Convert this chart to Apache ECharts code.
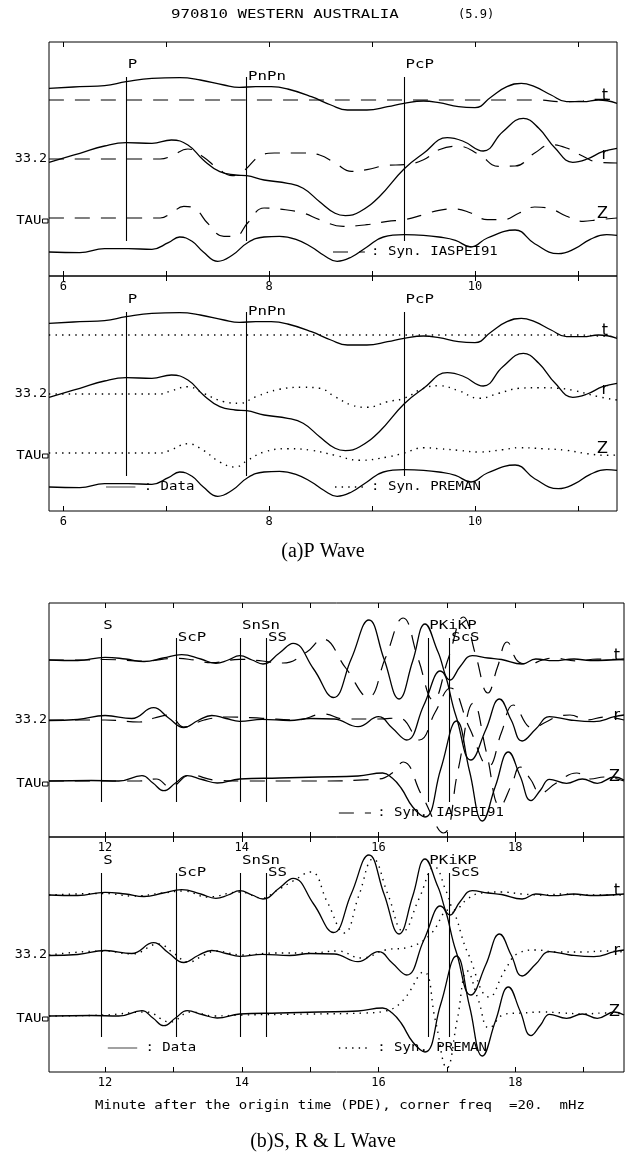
<!DOCTYPE html>
<html><head><meta charset="utf-8">
<script src="https://cdn.jsdelivr.net/npm/echarts@6/dist/echarts.min.js"></script>
<style>html,body{margin:0;padding:0;background:#fff;}#c{width:625px;height:1154px;}</style>
</head><body><div id="c"></div>
<script>
// ---------- tick labels / axes ----------
const pRange = [5.86, 11.38];
const sRange = [11.18, 19.59];
const pTicks = [6, 7, 8, 9, 10, 11];
const pTickLabels = [6, 8, 10];
const sTicks = [12, 13, 14, 15, 16, 17, 18, 19];
const sTickLabels = [12, 14, 16, 18];

// ---------- phase markers ----------
const pPhases = ['P', 'PnPn', 'PcP'];
const pPhaseTimes = [6.61, 7.78, 9.31];
const pPhaseRow = [0, 1, 0];
const sPhases = ['S', 'ScP', 'SnSn', 'SS', 'PKiKP', 'ScS'];
const sPhaseTimes = [11.95, 13.04, 13.98, 14.36, 16.72, 17.04];
const sPhaseRow = [0, 1, 0, 1, 0, 1];

// ---------- trace names / offsets ----------
const components = ['t', 'r', 'Z'];
const pOffsets = [59, 0, -59];
const sOffsets = [60, 0, -61];

// ---------- P wave: observed data [minute, deflection] ----------
const pDataT = [[5.86,11.7],[6.16,13.3],[6.40,14.3],[6.61,18.3],[6.86,21.7],[7.13,22.3],[7.33,20],[7.56,15],[7.71,12.7],[7.87,13.3],[8.02,13.3],[8.18,11],[8.41,3.3],[8.60,-5],[8.76,-10],[8.95,-10],[9.15,-6.7],[9.31,-3.3],[9.50,-1],[9.65,-2.7],[9.84,-6.7],[10.0,-7.7],[10.16,3.3],[10.31,13.3],[10.45,16.7],[10.58,13.3],[10.74,5],[10.89,-1.7],[11.05,-1.7],[11.20,0],[11.38,-3.3]];
const pDataR = [[5.86,-3.3],[6.16,5.7],[6.40,13],[6.61,16.3],[6.86,15.7],[7.05,19],[7.21,14],[7.36,-1],[7.52,-12.7],[7.67,-16],[7.78,-16.7],[7.95,-21],[8.18,-24.3],[8.33,-29.3],[8.49,-42.7],[8.64,-54.3],[8.74,-56.7],[8.88,-52.7],[9.07,-37.7],[9.31,-10],[9.50,5.7],[9.73,21.3],[9.88,18],[10.08,8],[10.27,27.3],[10.47,40.7],[10.62,30.7],[10.78,10.7],[10.95,-3.3],[11.09,0],[11.24,7.3],[11.38,10.7]];
const pDataZ = [[5.86,-34],[6.16,-34.7],[6.40,-30.7],[6.63,-30.7],[6.86,-31.3],[7.02,-24.7],[7.13,-19],[7.25,-23.3],[7.36,-34],[7.50,-43.3],[7.64,-37.3],[7.79,-24.7],[7.95,-19],[8.10,-18.3],[8.26,-21.3],[8.41,-29],[8.53,-37.3],[8.66,-43.3],[8.80,-39],[8.95,-29],[9.11,-19],[9.31,-16.7],[9.50,-17.3],[9.65,-19],[9.81,-22.3],[9.96,-29],[10.12,-20],[10.39,-12],[10.58,-25.7],[10.81,-35.7],[10.97,-30.7],[11.12,-21.3],[11.28,-16.7],[11.38,-17.3]];

// ---------- P wave: synthetic IASPEI91 ----------
const pIaspT = [[5.86,0],[7.0,0],[8.0,0],[9.0,0],[10.0,0],[10.6,0],[10.85,-1.7],[11.05,-1],[11.2,0.7],[11.38,0.3]];
const pIaspR = [[5.86,0],[6.94,0],[7.05,3],[7.21,10],[7.36,2],[7.52,-11],[7.64,-16.7],[7.75,-12],[7.91,3],[8.05,6],[8.33,6],[8.49,4],[8.64,-4],[8.80,-12.3],[8.95,-10.7],[9.15,-6.3],[9.31,-5.7],[9.50,-0.7],[9.65,9.3],[9.84,12.7],[10.04,4.3],[10.23,-7.3],[10.39,-7],[10.58,6],[10.74,14.3],[10.89,11],[11.05,2.7],[11.20,-3.3],[11.38,-4]];
const pIaspZ = [[5.86,0],[6.94,0],[7.05,5],[7.17,11.7],[7.29,8.3],[7.40,-5],[7.56,-18.3],[7.67,-18.3],[7.79,-5],[7.95,10],[8.10,9],[8.33,5],[8.49,-1.7],[8.72,-8.3],[8.95,-6.7],[9.15,-3.3],[9.31,-1.7],[9.50,3.3],[9.65,7.7],[9.81,9],[9.96,5],[10.12,-1.7],[10.27,-1.7],[10.43,5],[10.58,11],[10.74,9],[10.89,1.7],[11.05,-3.3],[11.20,-1.7],[11.38,0]];

// ---------- P wave: synthetic PREMAN ----------
const pPremT = [[5.86,0],[7.0,0],[8.0,0],[9.0,0],[10.0,0],[11.0,0],[11.2,-1],[11.38,-1.5]];
const pPremR = [[5.86,0],[6.94,0],[7.05,3.3],[7.21,7.3],[7.36,0.7],[7.56,-7.7],[7.71,-9.3],[7.87,-2.7],[8.10,4.7],[8.33,6.7],[8.49,5.7],[8.64,-2.7],[8.80,-11],[8.95,-13.3],[9.15,-7.7],[9.31,-4.3],[9.50,5.7],[9.65,8.3],[9.84,3.3],[10.04,-4.3],[10.23,0.7],[10.43,5.7],[10.62,6.3],[10.81,5.7],[10.97,3.3],[11.20,-2.7],[11.38,-6]];
const pPremZ = [[5.86,0],[6.94,0],[7.05,3.3],[7.21,9.3],[7.36,2.7],[7.52,-9],[7.67,-14],[7.79,-7.3],[7.95,1],[8.18,4.3],[8.41,2.7],[8.64,-2.3],[8.88,-7.3],[9.15,-4],[9.31,0],[9.50,5.3],[9.65,4.3],[9.84,2.7],[10.04,1],[10.27,3.3],[10.43,5.3],[10.66,4.3],[10.89,2.7],[11.09,-0.7],[11.28,-2.3],[11.38,-2]];

// ---------- S, R & L wave: observed data ----------
const sDataT = [[11.18,0],[11.6,-0.5],[12.0,2.7],[12.3,1],[12.57,-1.5],[12.85,2],[13.12,5.3],[13.4,1],[13.62,-3.3],[13.8,0],[13.97,4.3],[14.15,0],[14.31,-4],[14.55,7],[14.75,16.7],[15.05,-9],[15.34,-37.5],[15.6,1],[15.86,40],[16.08,1],[16.3,-39],[16.5,-1],[16.68,36],[16.87,8],[17.05,-20],[17.2,-6],[17.37,4.3],[17.6,2],[17.8,0.5],[18.1,-4],[18.3,1],[18.56,-0.7],[18.86,1],[19.1,-0.5],[19.59,1]];
const sDataR = [[11.18,-0.5],[11.6,0.5],[12.0,4.5],[12.39,1.5],[12.71,12.3],[12.93,2],[13.15,-7.5],[13.36,-0.5],[13.56,4.5],[13.77,1.5],[13.97,-1.3],[14.3,0.7],[14.7,-0.5],[15.0,1.5],[15.35,1],[15.7,-6.7],[16.0,3.3],[16.2,-8],[16.41,-20],[16.66,14.5],[16.9,49],[17.13,4.5],[17.35,-40],[17.57,-9.5],[17.77,21],[17.94,0],[18.1,-21],[18.3,-9],[18.5,3.3],[18.8,0],[19.15,-1.7],[19.45,3.3],[19.59,5]];
const sDataZ = [[11.18,0],[11.8,0.5],[12.2,0],[12.54,5.3],[12.7,-2],[12.86,-9.7],[13.03,-2],[13.2,5.3],[13.42,1.5],[13.64,-2],[13.97,2],[14.55,3],[15.13,4],[15.7,5],[16.06,8],[16.2,3],[16.33,-7],[16.5,-26],[16.68,-36],[16.91,12],[17.14,60],[17.33,10],[17.52,-40],[17.71,-5],[17.9,29],[18.07,5],[18.23,-19.7],[18.37,-9],[18.5,1.7],[18.75,-2.3],[18.98,2],[19.2,-2.3],[19.45,4],[19.59,1]];

// ---------- S, R & L wave: synthetic IASPEI91 ----------
const sIaspT = [[11.18,0],[11.6,0],[12.0,0.5],[12.57,-1],[13.04,1.7],[13.3,0],[13.56,-2.7],[13.97,0.7],[14.3,-1],[14.6,-3],[14.95,8],[15.18,21],[15.52,-8],[15.85,-37],[16.1,2],[16.36,42],[16.58,1],[16.8,-40],[17.02,1.5],[17.24,43],[17.42,5],[17.6,-33],[17.74,-7],[17.88,18],[18.05,-2],[18.2,-4],[18.4,0],[18.56,2],[18.9,-1],[19.2,1],[19.59,0]];
const sIaspR = [[11.18,0],[12.0,0],[12.5,-2],[12.72,2],[12.94,5],[13.15,-7],[13.45,0],[13.8,3],[14.3,1.7],[14.8,0],[15.2,6],[15.5,1],[16.0,1],[16.3,2],[16.6,-20],[16.83,8],[17.05,32],[17.33,-8],[17.61,-46],[17.8,-12],[17.97,15],[18.25,-8],[18.45,-2],[18.6,3],[18.8,5],[19.05,0],[19.3,3],[19.59,0]];
const sIaspZ = [[11.18,0],[12.5,0],[12.75,2],[12.95,-6],[13.25,6],[13.6,1],[14.0,0],[15.0,0],[16.0,2],[16.2,8],[16.36,19],[16.63,-14],[16.95,-52],[17.16,10],[17.39,78],[17.58,28],[17.78,-25],[17.95,-3],[18.07,14],[18.22,2],[18.37,-12],[18.6,-2],[18.9,8],[19.1,2],[19.3,4],[19.59,0]];

// ---------- S, R & L wave: synthetic PREMAN ----------
const sPremT = [[11.18,0],[12.0,1.5],[12.4,-1],[12.85,2],[13.15,4],[13.5,-2],[13.97,3],[14.3,-3],[14.5,4],[14.75,14],[15.01,23],[15.25,-7],[15.5,-38],[15.71,-1],[15.92,36],[16.14,0],[16.36,-36],[16.59,-4],[16.82,28],[17.0,2],[17.12,-15],[17.3,-4],[17.5,2],[17.8,3],[18.1,1],[18.4,0],[18.7,1],[19.0,0],[19.59,0]];
const sPremR = [[11.18,0],[12.0,4],[12.4,1],[12.78,11],[13.0,2],[13.22,-7],[13.45,0],[13.62,4],[14.0,0],[14.5,2],[15.0,2],[15.4,4],[15.75,-3],[16.1,5],[16.45,8],[16.75,20],[17.02,45],[17.3,3],[17.62,-42],[17.85,-15],[18.05,2],[18.3,5],[18.6,3],[19.0,3],[19.3,4],[19.59,3]];
const sPremZ = [[11.18,0],[12.0,1],[12.6,4],[12.95,-6],[13.25,4],[13.6,0],[14.0,1],[15.0,2],[15.8,3],[16.1,5],[16.35,15],[16.66,44],[16.83,-4],[17.0,-52],[17.15,-4],[17.3,45],[17.46,16],[17.62,-12],[17.85,2],[18.1,3],[18.4,4],[18.7,3],[19.0,2],[19.3,3],[19.59,2]];

// ---------- text ----------
const titleLeft = '970810 WESTERN AUSTRALIA';
const titleRight = '(5.9)';
const xAxisTitle = 'Minute after the origin time (PDE), corner freq  =20.  mHz';
const captions = ['(a)P Wave', '(b)S, R & L Wave'];
const leftLabelR = '33.2';
const leftLabelZ = 'TAU';

// ---------- layout & styling ----------
const MONO = '"DejaVu Sans Mono", "Liberation Mono", monospace';
const DASH = [15, 11];
const DOT = [1.4, 5.2];
const layout = [
  {left: 49, top: 42, width: 568, height: 234, ymin: -117, ymax: 117},
  {left: 49, top: 276, width: 568, height: 235, ymin: -117, ymax: 118},
  {left: 49, top: 603, width: 575, height: 234, ymin: -117, ymax: 117},
  {left: 49, top: 837, width: 575, height: 235, ymin: -117, ymax: 118}
];
const panels = [
  {range: pRange, ticks: pTicks, labels: pTickLabels, data: [pDataT, pDataR, pDataZ], syn: [pIaspT, pIaspR, pIaspZ], synDash: DASH, offsets: pOffsets, phases: pPhases, times: pPhaseTimes, rows: pPhaseRow, rightInset: 9,
   legend: [{kind: 'dash', x1: 8.62, x2: 8.93, tx: 8.99, text: ': Syn. IASPEI91'}]},
  {range: pRange, ticks: pTicks, labels: pTickLabels, data: [pDataT, pDataR, pDataZ], syn: [pPremT, pPremR, pPremZ], synDash: DOT, offsets: pOffsets, phases: pPhases, times: pPhaseTimes, rows: pPhaseRow, rightInset: 9,
   legend: [{kind: 'solid', x1: 6.414, x2: 6.70, tx: 6.78, text: ': Data'}, {kind: 'dot', x1: 8.64, x2: 8.91, tx: 8.99, text: ': Syn. PREMAN'}]},
  {range: sRange, ticks: sTicks, labels: sTickLabels, data: [sDataT, sDataR, sDataZ], syn: [sIaspT, sIaspR, sIaspZ], synDash: DASH, offsets: sOffsets, phases: sPhases, times: sPhaseTimes, rows: sPhaseRow, rightInset: 4,
   legend: [{kind: 'dash', x1: 15.42, x2: 15.89, tx: 15.98, text: ': Syn. IASPEI91'}]},
  {range: sRange, ticks: sTicks, labels: sTickLabels, data: [sDataT, sDataR, sDataZ], syn: [sPremT, sPremR, sPremZ], synDash: DOT, offsets: sOffsets, phases: sPhases, times: sPhaseTimes, rows: sPhaseRow, rightInset: 4,
   legend: [{kind: 'solid', x1: 12.04, x2: 12.47, tx: 12.59, text: ': Data'}, {kind: 'dot', x1: 15.42, x2: 15.89, tx: 15.98, text: ': Syn. PREMAN'}]}
];
const MARK_TOP = 82, MARK_BOT = -82, LABEL_UP = 94, LABEL_LOW = 81.5, LEGEND_Y = -93;

const chart = echarts.init(document.getElementById('c'), null, {renderer: 'canvas', width: 625, height: 1154});

const xAxes = [];
panels.forEach((p, i) => {
  xAxes.push({type: 'value', gridIndex: i, position: 'bottom', min: p.range[0], max: p.range[1],
    axisLine: {show: false, onZero: false}, splitLine: {show: false},
    axisTick: {show: true, inside: true, length: 5, customValues: p.ticks, lineStyle: {color: '#000', width: 1}},
    axisLabel: {show: true, customValues: p.labels, margin: 5, color: '#000', fontFamily: MONO, fontSize: 12}});
  xAxes.push({type: 'value', gridIndex: i, position: 'top', min: p.range[0], max: p.range[1],
    axisLine: {show: false, onZero: false}, splitLine: {show: false},
    axisTick: {show: true, inside: true, length: 5, customValues: p.ticks, lineStyle: {color: '#000', width: 1}},
    axisLabel: {show: false}});
});

function trace(gi, pts, off, dash, width) {
  return {type: 'line', xAxisIndex: gi * 2, yAxisIndex: gi, smooth: 0.45, symbol: 'none', silent: true,
    animation: false, z: 2, data: pts.map(q => [q[0], Math.round((q[1] + off) * 100) / 100]),
    lineStyle: {color: '#000', width: width, type: dash}};
}

const series = [];
panels.forEach((p, i) => {
  for (let k = 0; k < 3; k++) {
    series.push(trace(i, p.syn[k], p.offsets[k], p.synDash, p.synDash === DOT ? 1.4 : 1.2));
  }
  for (let k = 0; k < 3; k++) {
    const s = trace(i, p.data[k], p.offsets[k], 'solid', 1.3);
    if (k === 1) {
      s.markLine = {silent: true, animation: false, symbol: ['none', 'none'], label: {show: false},
        emphasis: {disabled: true},
        lineStyle: {color: '#000', width: 1.1, type: 'solid'},
        data: p.times.map(t => [{coord: [t, MARK_TOP]}, {coord: [t, MARK_BOT]}])};
    }
    series.push(s);
  }
});

chart.setOption({
  animation: false,
  backgroundColor: '#fff',
  grid: layout.map(l => ({left: l.left, top: l.top, width: l.width, height: l.height, show: true,
    borderColor: '#000', borderWidth: 1, backgroundColor: 'transparent'})),
  xAxis: xAxes,
  yAxis: layout.map((l, i) => ({type: 'value', gridIndex: i, min: l.ymin, max: l.ymax, show: false})),
  series: series
});

// ---------- text and legend via the axes ----------
function px(gi, x, y) { return chart.convertToPixel({xAxisIndex: gi * 2, yAxisIndex: gi}, [x, y]); }
function txt(x, y, s, o) {
  o = o || {};
  const al = o.align || 'left';
  return {type: 'text', x: x, y: y, scaleX: o.sx || 1, z: 10, silent: true,
    style: {text: s, fill: '#000', font: o.font || ('11.5px ' + MONO),
      textAlign: al, textVerticalAlign: 'middle', align: al, verticalAlign: 'middle'}};
}
const g = [];
g.push(txt(171, 15, titleLeft, {sx: 1.37}));
g.push(txt(458, 15, titleRight, {sx: 1.05}));
g.push(txt(340, 1106, xAxisTitle, {sx: 1.22, align: 'center'}));
g.push(txt(323, 552, captions[0], {font: '20px "Liberation Serif", "DejaVu Serif", serif', align: 'center'}));
g.push(txt(323, 1142, captions[1], {font: '20px "Liberation Serif", "DejaVu Serif", serif', align: 'center'}));

panels.forEach((p, i) => {
  p.phases.forEach((name, j) => {
    const pt = px(i, p.times[j], p.rows[j] === 0 ? LABEL_UP : LABEL_LOW);
    g.push(txt(pt[0] + 1.5, pt[1], name, {sx: 1.37}));
  });
  const l0 = px(i, p.range[0], p.offsets[1]);
  g.push(txt(l0[0] - 2, l0[1], leftLabelR, {sx: 1.16, align: 'right'}));
  const l1 = px(i, p.range[0], p.offsets[2] - 3);
  g.push(txt(l1[0] - 7.5, l1[1], leftLabelZ, {sx: 1.22, align: 'right'}));
  g.push({type: 'rect', z: 10, silent: true, shape: {x: l1[0] - 6.5, y: l1[1] - 2, width: 5.5, height: 4},
    style: {fill: 'none', stroke: '#000', lineWidth: 1}});
  components.forEach((c, k) => {
    const r = px(i, p.range[1], p.offsets[k] + 4);
    g.push(txt(r[0] - p.rightInset, r[1], c, {font: '16px "DejaVu Sans", sans-serif', align: 'right'}));
  });
  p.legend.forEach(e => {
    const a = px(i, e.x1, LEGEND_Y), b = px(i, e.x2, LEGEND_Y), t = px(i, e.tx, LEGEND_Y);
    const st = {stroke: e.kind === 'solid' ? '#555' : '#000', lineWidth: e.kind === 'dot' ? 1.4 : 1.1};
    if (e.kind === 'dash') st.lineDash = DASH;
    if (e.kind === 'dot') st.lineDash = DOT;
    g.push({type: 'line', z: 10, silent: true, shape: {x1: a[0], y1: a[1], x2: b[0], y2: b[1]}, style: st});
    g.push(txt(t[0], t[1], e.text, {sx: 1.22}));
  });
});
chart.setOption({graphic: {elements: g}});
</script></body></html>
